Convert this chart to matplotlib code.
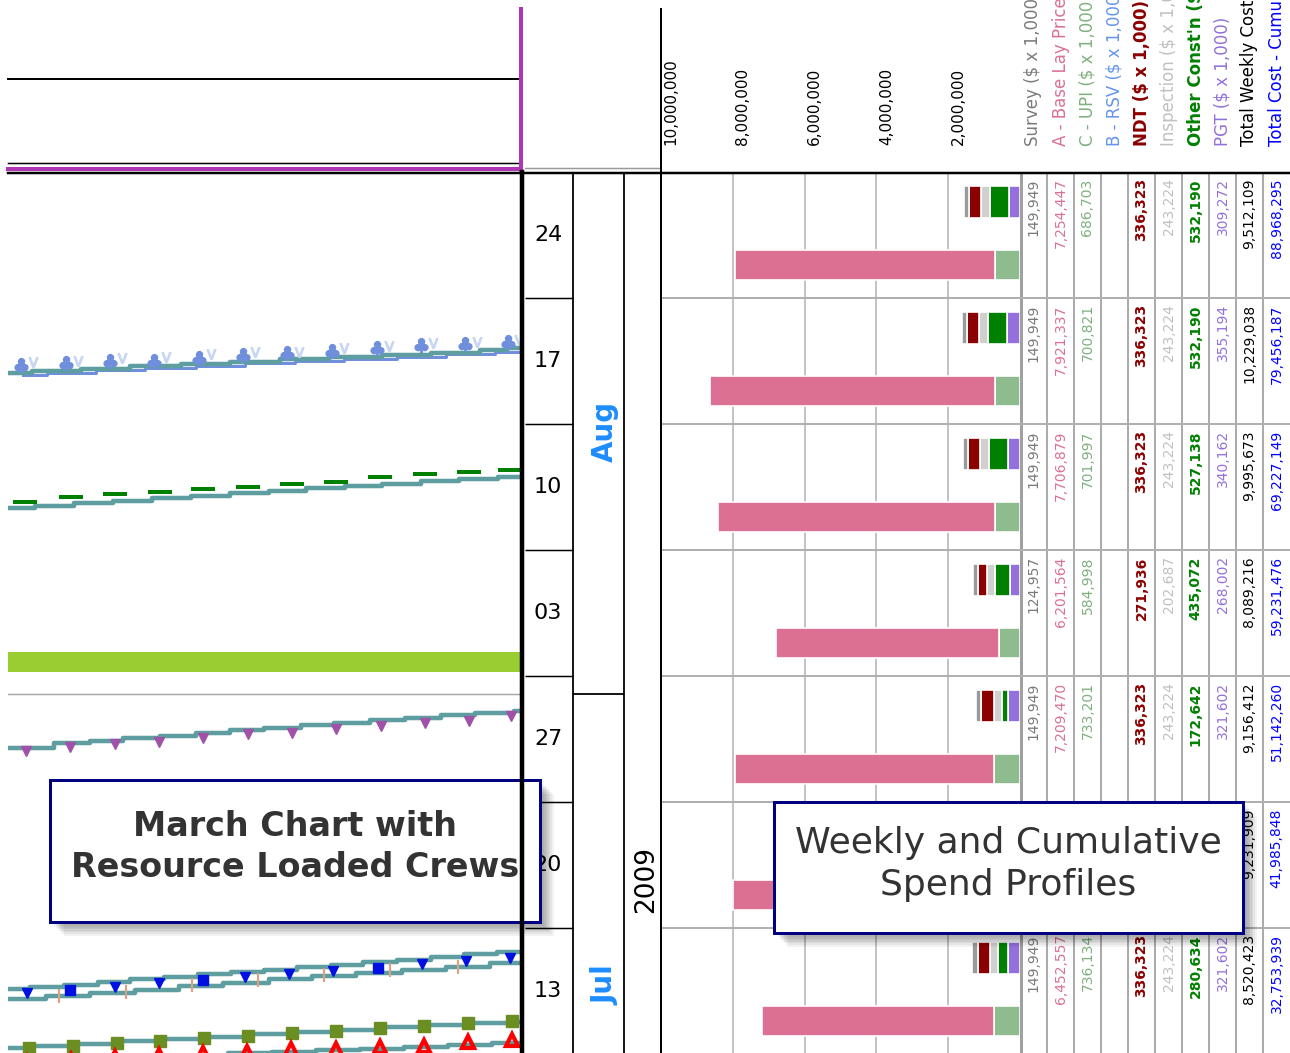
import matplotlib.pyplot as plt
import matplotlib.transforms as mtransforms
from matplotlib.patches import Rectangle

W, H = 1290, 1053
PX = 1 / 1.389          # one pixel in points at 100 dpi

# ---- time axis: days counted from Sun 12 Jul 2009 (row "13" starts there)
week_labels = ["13", "20", "27", "03", "10", "17", "24"]
week_start = [0, 7, 14, 21, 28, 35, 42]
months = ["Jul", "Aug"]
month_label_day = [3.8, 34.6]
aug_start = 20
year_label = "2009"
year_label_day = 9.7
shutdown = (21.2, 22.35)

# ---- weekly spend per cost item (same week order as above)
survey = [149949, 149949, 149949, 124957, 149949, 149949, 149949]
base_lay = [6452557, 7267637, 7209470, 6201564, 7706879, 7921337, 7254447]
upi = [736134, 733174, 733201, 584998, 701997, 700821, 686703]
rsv = [0, 0, 0, 0, 0, 0, 0]
ndt = [336323, 336323, 336323, 271936, 336323, 336323, 336323]
inspection = [243224, 243224, 243224, 202687, 243224, 243224, 243224]
other_const = [280634, 180000, 172642, 435072, 527138, 532190, 532190]
pgt = [321602, 321602, 321602, 268002, 340162, 355194, 309272]
total_weekly = [8520423, 9231909, 9156412, 8089216, 9995673, 10229038, 9512109]
cumulative = [32753939, 41985848, 51142260, 59231476, 69227149, 79456187, 88968295]

bar_ticks = [10000000, 8000000, 6000000, 4000000, 2000000]

# ---- march chart crews: chainage (m) where each step starts, day reached
crew_a_x = [0, 240, 730, 1220, 1730, 2220, 2720, 3210, 3740, 4230, 4720, 4990]
crew_a_day = [37.83, 37.96, 38.08, 38.22, 38.33, 38.47, 38.61, 38.72, 38.83, 38.97, 39.11, 39.22]
crew_a_mx = [130, 580, 1020, 1460, 1910, 2350, 2790, 3240, 3690, 4130, 4570, 5000]
crew_a_mday = [38.28, 38.37, 38.52, 38.52, 38.65, 38.83, 38.93, 39.07, 39.21, 39.39, 39.44, 39.57]
crew_a2_mx = [250, 700, 1140, 1580, 2030, 2470, 2910, 3360, 3810, 4250, 4690, 5110]
crew_a2_mday = [38.45, 38.52, 38.66, 38.72, 38.88, 39.02, 39.02, 39.2, 39.33, 39.5, 39.55, 39.68]

crew_b_x = [0, 270, 660, 1050, 1440, 1830, 2220, 2610, 2980, 3370, 3740, 4130, 4510, 4900]
crew_b_day = [30.33, 30.47, 30.61, 30.75, 30.89, 31.0, 31.14, 31.28, 31.42, 31.56, 31.67, 31.81, 31.94, 32.06]
crew_b_mx = [170, 630, 1070, 1520, 1950, 2400, 2840, 3280, 3720, 4170, 4610, 5020]
crew_b_mday = [30.68, 30.96, 31.09, 31.24, 31.37, 31.52, 31.65, 31.76, 32.07, 32.21, 32.32, 32.44]

crew_c_x = [0, 460, 820, 1150, 1520, 1880, 2220, 2560, 2930, 3260, 3620, 3970, 4330, 4670, 5060]
crew_c_day = [16.98, 17.26, 17.39, 17.54, 17.67, 17.85, 18.0, 18.13, 18.28, 18.41, 18.56, 18.68, 18.83, 18.93, 19.07]
crew_c_mx = [180, 620, 1070, 1510, 1950, 2400, 2840, 3280, 3730, 4170, 4610, 5030]
crew_c_mday = [16.85, 17.07, 17.21, 17.35, 17.54, 17.76, 17.85, 18.04, 18.22, 18.41, 18.52, 18.78]

crew_d1_x = [0, 220, 560, 900, 1220, 1560, 1900, 2230, 2560, 2890, 3230, 3550, 3890, 4230, 4560, 4890]
crew_d1_day = [3.59, 3.72, 3.86, 4.0, 4.14, 4.28, 4.42, 4.56, 4.69, 4.83, 4.97, 5.11, 5.25, 5.39, 5.53, 5.67]
crew_d2_x = [0, 380, 820, 1270, 1710, 2150, 2610, 3040, 3480, 3940, 4380, 4820]
crew_d2_day = [3.04, 3.22, 3.41, 3.58, 3.78, 3.94, 4.14, 4.32, 4.5, 4.68, 4.86, 5.04]
crew_d_mx = [190, 620, 1070, 1510, 1950, 2370, 2810, 3250, 3700, 4140, 4580, 5020]
crew_d_mday = [3.41, 3.56, 3.70, 3.93, 4.11, 4.26, 4.43, 4.63, 4.79, 4.98, 5.17, 5.32]
crew_d_tx = [510, 1180, 1840, 2500, 3160, 3820, 4500]
crew_d_tday = [3.22, 3.44, 3.83, 4.11, 4.39, 4.67, 4.83]

crew_e_x = [0, 210, 650, 1090, 1520, 1960, 2400, 2840, 3280, 3720, 4160, 4600, 5040]
crew_e_day = [0.32, 0.44, 0.57, 0.71, 0.83, 0.96, 1.09, 1.22, 1.35, 1.48, 1.61, 1.74, 1.79]
crew_e_mx = [210, 650, 1090, 1520, 1960, 2400, 2840, 3280, 3720, 4160, 4600, 5040]
crew_e_mday = [0.32, 0.44, 0.59, 0.72, 0.87, 1.0, 1.15, 1.29, 1.43, 1.56, 1.71, 1.85]

crew_f_x = [0, 440, 880, 1320, 1760, 2200, 2640, 3080, 3520, 3960, 4400, 4840]
crew_f_day = [-0.55, -0.42, -0.3, -0.18, -0.06, 0.05, 0.12, 0.2, 0.3, 0.4, 0.5, 0.61]
crew_f_mx = [190, 630, 1070, 1510, 1950, 2390, 2830, 3280, 3720, 4160, 4600, 5040]
crew_f_mday = [-0.45, -0.32, -0.19, -0.07, 0.05, 0.12, 0.26, 0.3, 0.38, 0.47, 0.64, 0.78]

TEAL = "#5f9ea0"
TOP_DAY = 49
BOTTOM_DAY = TOP_DAY - (H - 172) / 18    # 18 px per day
X_END = 5130

fig = plt.figure(figsize=(W / 100, H / 100), dpi=100)


def px_axes(x0, y0, x1, y1):
    return fig.add_axes([x0 / W, 1 - y1 / H, (x1 - x0) / W, (y1 - y0) / H])


# ---------------- march chart
ax_m = px_axes(8, 172, 521, H)
ax_m.set_xlim(0, X_END)
ax_m.set_ylim(BOTTOM_DAY, TOP_DAY)
ax_m.axis("off")
ax_m.axhspan(*shutdown, color="#9acd32", lw=0)
ax_m.axhline(aug_start, color="#a8a8a8", lw=1.5 * PX)


def crew(xs, days, color=TEAL, lw=4.5 * PX, z=3, dx=0, dy=0):
    ax_m.step([x + dx for x in xs] + [X_END], [d + dy for d in days] + [days[-1] + dy],
              where="post", color=color, lw=lw, zorder=z)


crew(crew_a_x, crew_a_day, color="#6f8fdc", lw=3 * PX, z=2, dx=150, dy=-0.1)
crew(crew_a_x, crew_a_day)
ax_m.plot(crew_a_mx, crew_a_mday, ls="none", marker=r"$\clubsuit$", ms=10, color="#6f8fdc", zorder=4)
ax_m.plot(crew_a2_mx, crew_a2_mday, ls="none", marker=r"$\mathrm{V}$", ms=7, color="#c8d6f4", zorder=3.5)

crew(crew_b_x, crew_b_day)
ax_m.plot(crew_b_mx, crew_b_mday, ls="none", marker="_", ms=17, mew=4 * PX, color="#008000", zorder=4)

crew(crew_c_x, crew_c_day)
ax_m.plot(crew_c_mx, crew_c_mday, ls="none", marker="v", ms=7, color="#a052a8", zorder=4)

crew(crew_d1_x, crew_d1_day)
crew(crew_d2_x, crew_d2_day)
for i, (x, d) in enumerate(zip(crew_d_mx, crew_d_mday)):
    ax_m.plot(x, d, ls="none", marker="s" if i in (1, 4, 8) else "v", ms=6.5, color="#0010e0", zorder=4)
ax_m.plot(crew_d_tx, crew_d_tday, ls="none", marker="|", ms=10, mew=1.5, color="#e0a080", zorder=4)

crew(crew_e_x, crew_e_day)
ax_m.plot(crew_e_mx, crew_e_mday, ls="none", marker="s", ms=8, color="#6b8e23", zorder=4)

crew(crew_f_x, crew_f_day)
ax_m.plot(crew_f_mx, crew_f_mday, ls="none", marker="^", ms=9, mew=3, fillstyle="none",
          color="red", zorder=4)

# ---------------- date columns
ax_d = px_axes(521, 172, 660, H)
ax_d.set_xlim(521, 660)
ax_d.set_ylim(BOTTOM_DAY, TOP_DAY)
ax_d.axis("off")
ax_d.hlines(week_start[1:], 525, 573, color="black", lw=1.5 * PX)
ax_d.axvline(573, color="black", lw=1.8 * PX)
ax_d.axvline(624, color="black", lw=1.8 * PX)
ax_d.hlines(aug_start, 573, 624, color="black", lw=1.8 * PX)
for lbl, ws in zip(week_labels, week_start):
    ax_d.text(548, ws + 3.5, lbl, ha="center", va="center", fontsize=16)
for m, d in zip(months, month_label_day):
    ax_d.text(605, d, m, rotation=90, ha="center", va="center", fontsize=20,
              weight="bold", color="#1e8cff")
ax_d.text(646, year_label_day, year_label, rotation=90, ha="center", va="center", fontsize=19)

# ---------------- weekly spend bars
ax_b = px_axes(661, 172, 1020, H)
ax_b.set_xlim(bar_ticks[0], 0)
ax_b.set_ylim(BOTTOM_DAY, TOP_DAY)
for s in ax_b.spines.values():
    s.set_visible(False)
ax_b.set_xticks(bar_ticks)
ax_b.set_yticks([])
ax_b.tick_params(axis="x", length=0, labelbottom=False)
ax_b.grid(axis="x", color="#bdbdbd", lw=1.8 * PX)
ax_b.set_axisbelow(True)
for w in week_start[1:]:
    ax_b.axhline(w, color="#b0b0b0", lw=2 * PX)
lbl_trans = mtransforms.offset_copy(ax_b.transData, fig=fig, x=10, y=27, units="dots")
for t in bar_ticks:
    ax_b.text(t, TOP_DAY, f"{t:,}", transform=lbl_trans, rotation=90, ha="center",
              va="bottom", fontsize=11, clip_on=False)

upper_stack = [(pgt, "#9370db"), (other_const, "#008000"), (inspection, "#d0d0d0"),
               (ndt, "#8b0000"), (rsv, "#6495ed"), (survey, "#9a9a9a")]
lower_stack = [(upi, "#8fbc8f"), (base_lay, "#db7093")]
for stack, off, hgt in ((upper_stack, 5.33, 1.78), (lower_stack, 1.83, 1.67)):
    left = [0] * len(week_start)
    for vals, col in stack:
        ax_b.barh([w + off for w in week_start], vals, left=left, height=hgt,
                  color=col, edgecolor="white", lw=1.2)
        left = [a + b for a, b in zip(left, vals)]

# ---------------- table
columns = [
    ("Survey ($ x 1,000)", survey, "#7a7a7a", "normal"),
    ("A - Base Lay Price ($ x 1,000)", base_lay, "#db7093", "normal"),
    ("C - UPI ($ x 1,000)", upi, "#7fb07f", "normal"),
    ("B - RSV ($ x 1,000)", rsv, "#6495ed", "normal"),
    ("NDT ($ x 1,000)", ndt, "#8b0000", "bold"),
    ("Inspection ($ x 1,000)", inspection, "#c0c0c0", "normal"),
    ("Other Const'n ($ x 1,000)", other_const, "#008000", "bold"),
    ("PGT ($ x 1,000)", pgt, "#9370db", "normal"),
    ("Total Weekly Cost", total_weekly, "black", "normal"),
    ("Total Cost - Cumulative", cumulative, "#0000ff", "normal"),
]
ax_t = px_axes(1020, 172, 1290, H)
ax_t.set_xlim(0, len(columns))
ax_t.set_ylim(BOTTOM_DAY, TOP_DAY)
ax_t.axis("off")
ax_t.vlines(range(1, len(columns)), BOTTOM_DAY, TOP_DAY, color="#ababab", lw=2 * PX)
ax_t.axvline(0.04, color="#a0a0a0", lw=3 * PX)
for w in week_start[1:]:
    ax_t.axhline(w, color="#b0b0b0", lw=2 * PX)
for c, (head, vals, col, wt) in enumerate(columns):
    ax_t.text(c + 0.5, TOP_DAY + 26 / 18, head, rotation=90, ha="center", va="bottom",
              fontsize=12, color=col, weight=wt, clip_on=False)
    for ws, v in zip(week_start, vals):
        if v:
            ax_t.text(c + 0.5, ws + 7 - 0.35, f"{v:,}", rotation=90, ha="center",
                      va="top", fontsize=10, color=col, weight=wt)

# ---------------- frame lines and notes (pixel coordinates)
ax_o = fig.add_axes([0, 0, 1, 1])
ax_o.set_xlim(0, W)
ax_o.set_ylim(H, 0)
ax_o.axis("off")
ax_o.patch.set_alpha(0)
MAG = "#b035b5"
ax_o.plot([8, 519], [79, 79], color="black", lw=2 * PX)
ax_o.plot([8, 519], [163, 163], color="black", lw=1.5 * PX)
ax_o.plot([8, 521], [169, 169], color=MAG, lw=4 * PX)
ax_o.plot([8, 1290], [172.5, 172.5], color="black", lw=2.5 * PX)
ax_o.plot([521, 521], [9, 170], color=MAG, lw=4 * PX)
ax_o.plot([522, 522], [172, H], color="black", lw=4.5 * PX)
ax_o.plot([525, 660], [168, 168], color="#9a9a9a", lw=1.5 * PX)
ax_o.plot([660.5, 660.5], [9, H], color="black", lw=2 * PX)


def note(x0, y0, x1, y1, text, ty, size, weight):
    for i in range(7):
        ax_o.add_patch(Rectangle((x0 + 4 + i * 1.6, y0 + 4 + i * 1.6), x1 - x0, y1 - y0,
                                 color="black", alpha=0.05, lw=0))
    ax_o.add_patch(Rectangle((x0, y0), x1 - x0, y1 - y0, facecolor="white",
                             edgecolor="#000080", lw=3 * PX))
    ax_o.text((x0 + x1) / 2, ty, text, ha="center", va="center", fontsize=size,
              weight=weight, color="#333333", linespacing=1.32)


note(50, 780, 540, 922, "March Chart with\nResource Loaded Crews", 847, 24, "bold")
note(774, 802, 1243, 933, "Weekly and Cumulative\nSpend Profiles", 864, 26, "normal")

fig.savefig("out.png", dpi=100)
